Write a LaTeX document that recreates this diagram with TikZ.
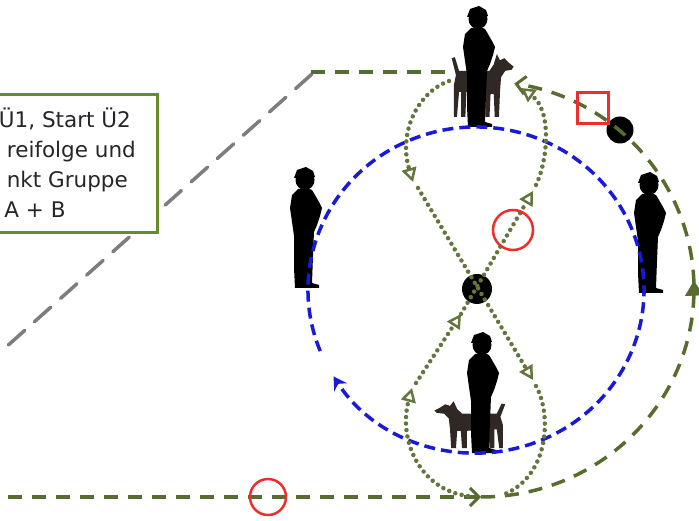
\documentclass[tikz,border=0pt]{standalone}
\usepackage{fontspec}
\setmainfont{DejaVu Sans}
\usetikzlibrary{arrows.meta, decorations.markings}

\definecolor{ringblue}{RGB}{25,25,215}
\definecolor{routegreen}{RGB}{88,108,48}
\definecolor{trailgreen}{RGB}{100,118,62}
\definecolor{markred}{RGB}{240,45,45}
\definecolor{leadgray}{RGB}{125,125,125}
\definecolor{noteframe}{RGB}{100,140,40}
\definecolor{dogfur}{RGB}{48,40,36}

% silhouettes, origin at the feet
\tikzset{
  guard/.pic={
    % body, arm bent up to the face
    \fill (-9,0) -- (15,0) -- (15,3) -- (8,5) -- (9,32) -- (10,56) -- (13,63) -- (16,72) -- (18,80) -- (15,86) -- (11,93) -- (8,98) -- (3,100) -- (-6,99) -- (-12,93) -- (-14,80) -- (-12,66) -- (-10,52) -- (-10,20) -- cycle;
    % head with cap
    \fill (1,108) ellipse [x radius=9.5pt, y radius=10pt];
    \fill (-10,110) -- (-7,118) -- (2,121) -- (9,117) -- (11,111) -- cycle;
  },
  dog/.pic={
    \fill[dogfur] (-22,40) -- (-26,56) -- (-23,57) -- (-19,44) -- (10,44)
      -- (14,50) -- (17,60) -- (20,54) -- (24,56) -- (28,52) -- (33,48) -- (31,45) -- (25,44)
      -- (21,38) -- (20,24) -- (19,0) -- (15,0) -- (14,22) -- (11,22) -- (10,0) -- (6,0) -- (6,22)
      -- (-12,24) -- (-13,0) -- (-17,0) -- (-17,24) -- (-19,24) -- (-21,0) -- (-24,0) -- (-24,30) -- cycle;
  }
}

\begin{document}
\begin{tikzpicture}[
    x=1pt, y=1pt,
    ring/.style={draw=ringblue, line width=3.5pt, dash pattern=on 11pt off 6pt},
    route/.style={draw=routegreen, line width=3.5pt, dash pattern=on 14pt off 10pt},
    routetip/.style={-{Straight Barb[length=9pt, width=18pt, line width=3pt]}},
    trail/.style={draw=trailgreen, line width=4.5pt, line cap=round, dash pattern=on 0pt off 6.5pt},
    trailtip/.style={-{Triangle[open, length=14pt, width=15pt, line width=2.5pt]}},
    lead/.style={draw=leadgray, line width=3.5pt, line cap=round, dash pattern=on 22pt off 13pt},
    redmark/.style={draw=markred, line width=2.5pt, inner sep=0pt},
    spot/.style={circle, fill=black, inner sep=0pt, minimum size=#1},
    notebox/.style={draw=noteframe, line width=3pt, fill=white, minimum width=237pt, minimum height=138pt},
    notetext/.style={font=\fontsize{21.5}{26}\selectfont, text=black!85, inner sep=0pt}
]
    \useasboundingbox (0,0) rectangle (699,520);
    \clip (0,0) rectangle (699,520);

    % handlers and dogs
    \pic[scale=1.05] (dTop) at (479,403) {dog};
    \pic (gTop) at (477,393) {guard};
    \pic (gLeft) at (304,232) {guard};
    \pic (gRight) at (648,227) {guard};
    \pic[xscale=-1.2, yscale=0.78] (dBottom) at (474,72) {dog};
    \pic (gBottom) at (481,67) {guard};

    % points on the course
    \node[spot=30pt] (hub) at (477,231) {};
    \node[spot=27pt] (post) at (620,390) {};
    \coordinate (start) at (8,23);
    \coordinate (junction) at (481,23);
    \coordinate (dogside) at (445,448);
    \coordinate (bend) at (310,448);
    \coordinate (leadtop) at (312,446);
    \coordinate (leadend) at (5,172);

    % circle of the group
    \draw[ring, -{Stealth[length=13pt, width=15pt]}] (476,230) ++(202:168pt and 163pt)
        arc[start angle=202, end angle=-148, x radius=168pt, y radius=163pt];

    % approach and outer round
    \draw[lead] (leadtop) -- (leadend);
    \draw[route, routetip] (start) -- (junction);
    \draw[route, routetip, postaction={decorate, decoration={markings,
        mark=at position 0.54 with {\arrow{Triangle[length=15pt, width=18pt]}}}}]
        (junction) arc[start angle=-90, end angle=81, x radius=213pt, y radius=208pt];
    \draw[route] (dogside) -- (bend);

    % figure of eight
    \draw[trail, trailtip] (449,439) .. controls (418,428) and (398,388) .. (413,338);
    \draw[trail, trailtip] (418,332) -- (533,140);
    \draw[trail] (536,134) .. controls (552,105) and (549,45) .. (505,26);
    \draw[trail, trailtip] (468,24) .. controls (420,30) and (398,80) .. (412,132);
    \draw[trail, trailtip] (416,137) -- (461,206);
    \draw[trail, trailtip] (461,206) -- (533,329);
    \draw[trail, trailtip] (536,335) .. controls (548,360) and (552,410) .. (521,432);

    % note
    \node[notebox] (note) at (38.5,356) {};
    \node[notetext, anchor=base east] (noteA) at (131,392) {Ü1, Start Ü2};
    \node[notetext, anchor=base east] (noteB) at (136,362) {reifolge und};
    \node[notetext, anchor=base east] (noteC) at (128,332) {nkt Gruppe};
    \node[notetext, anchor=base] (noteD) at (35,302) {A + B};

    % red markers
    \node[redmark, minimum size=31pt] (checkpoint) at (593,412) {};
    \node[redmark, circle, minimum size=40pt] (turnmark) at (513,290) {};
    \node[redmark, circle, minimum size=36pt] (startmark) at (268,23) {};
\end{tikzpicture}
\end{document}
